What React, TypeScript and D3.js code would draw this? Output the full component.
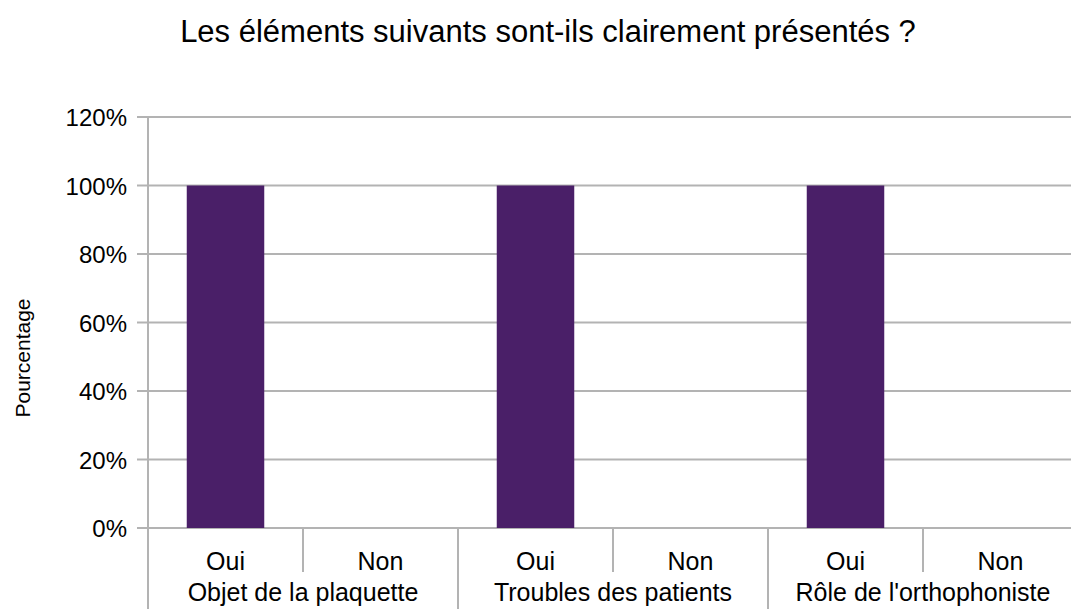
import React from "react";
import * as d3 from "d3";

const groups = ["Objet de la plaquette", "Troubles des patients", "Rôle de l'orthophoniste"];
const answers = ["Oui", "Non"];
const ouiValues = [100, 100, 100];
const nonValues = [0, 0, 0];
const yTicks = [0, 20, 40, 60, 80, 100, 120];
const title = "Les éléments suivants sont-ils clairement présentés ?";
const yLabel = "Pourcentage";

const W = 1071;
const H = 609;
const left = 148;
const right = 1078;
const top = 117;
const bottom = 528;
const font = "'Liberation Sans', Arial, sans-serif";

export default function App() {
  const x0 = d3.scaleBand<string>().domain(groups).range([left, right]).padding(0);
  const x1 = d3.scaleBand<string>().domain(answers).range([0, x0.bandwidth()]).padding(0);
  const y = d3.scaleLinear().domain([0, 120]).range([bottom, top]);
  const barW = x1.bandwidth() / 2;

  const data = groups.flatMap((g, i) => [
    { g, a: "Oui", v: ouiValues[i] },
    { g, a: "Non", v: nonValues[i] },
  ]);

  return (
    <svg width={W} height={H} style={{ position: "absolute", left: 0, top: 0, background: "#fff" }} fontFamily={font}>
      <text x={548} y={42} textAnchor="middle" fontSize={31} fill="#000">{title}</text>
      {yTicks.map((t) => (
        <g key={t}>
          <line x1={left - 11} x2={right} y1={y(t)} y2={y(t)} stroke="#b3b3b3" strokeWidth={2} />
          <text x={127} y={y(t) + 9} textAnchor="end" fontSize={24} fill="#000">{t}%</text>
        </g>
      ))}
      <line x1={left} x2={left} y1={top} y2={H} stroke="#b3b3b3" strokeWidth={2} />
      {data.map((d) => {
        const bx = (x0(d.g) as number) + (x1(d.a) as number);
        const cx = bx + x1.bandwidth() / 2;
        return (
          <g key={d.g + d.a}>
            {d.v > 0 && (
              <rect x={cx - barW / 2} y={y(d.v)} width={barW} height={y(0) - y(d.v)} fill="#4a1f68" />
            )}
            <text x={cx} y={570} textAnchor="middle" fontSize={25} fill="#000">{d.a}</text>
          </g>
        );
      })}
      {groups.map((g) => {
        const gx = x0(g) as number;
        return (
          <g key={g}>
            <line x1={gx + x1.bandwidth()} x2={gx + x1.bandwidth()} y1={bottom} y2={572} stroke="#b3b3b3" strokeWidth={2} />
            <line x1={gx + x0.bandwidth()} x2={gx + x0.bandwidth()} y1={bottom} y2={H} stroke="#b3b3b3" strokeWidth={2} />
            <text x={gx + x0.bandwidth() / 2} y={601} textAnchor="middle" fontSize={25} fill="#000">{g}</text>
          </g>
        );
      })}
      <text transform={`translate(30,358) rotate(-90)`} textAnchor="middle" fontSize={21} fill="#000">{yLabel}</text>
    </svg>
  );
}
